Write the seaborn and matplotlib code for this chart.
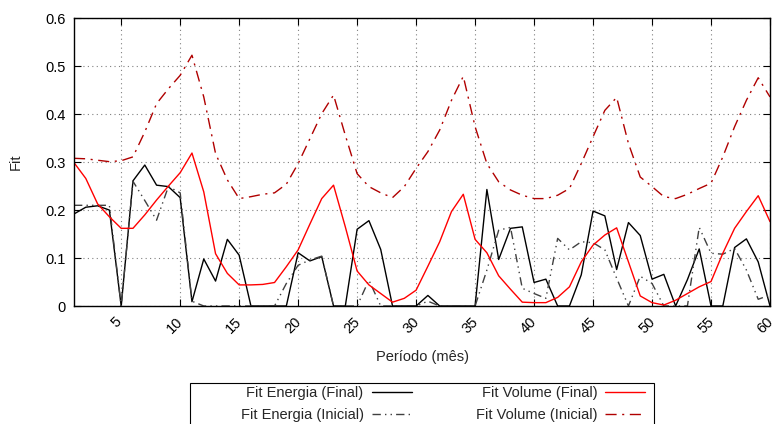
import numpy as np
import pandas as pd
import matplotlib
matplotlib.use('Agg')
import matplotlib.pyplot as plt
import matplotlib.transforms as mtransforms
from matplotlib.patches import Rectangle
import seaborn as sns

# período (mês) 1..60
periodo = list(range(1, 61))

energia_final = [0.192, 0.206, 0.209, 0.200, 0.0, 0.261, 0.294, 0.252, 0.249, 0.226,
                 0.009, 0.098, 0.052, 0.139, 0.106, 0.0, 0.0, 0.0, 0.0, 0.111,
                 0.094, 0.103, 0.0, 0.0, 0.160, 0.178, 0.118, 0.0, 0.0, 0.0,
                 0.022, 0.0, 0.0, 0.0, 0.0, 0.243, 0.097, 0.162, 0.165, 0.049,
                 0.056, 0.0, 0.0, 0.065, 0.198, 0.188, 0.076, 0.174, 0.147, 0.056,
                 0.066, 0.0, 0.055, 0.119, 0.0, 0.0, 0.122, 0.140, 0.092, 0.0]

energia_inicial = [0.210, 0.210, 0.210, 0.210, 0.0, 0.260, 0.220, 0.179, 0.249, 0.236,
                   0.010, 0.0, 0.0, 0.0, 0.0, 0.0, 0.0, 0.0, 0.047, 0.085,
                   0.096, 0.104, 0.0, 0.0, 0.0, 0.054, 0.0, 0.0, 0.0, 0.0,
                   0.010, 0.0, 0.0, 0.0, 0.0, 0.075, 0.158, 0.164, 0.037, 0.026,
                   0.016, 0.141, 0.117, 0.134, 0.132, 0.117, 0.058, 0.0, 0.062, 0.047,
                   0.0, 0.0, 0.0, 0.164, 0.110, 0.108, 0.120, 0.075, 0.014, 0.023]

volume_final = [0.299, 0.266, 0.213, 0.186, 0.162, 0.162, 0.190, 0.221, 0.250, 0.278,
                0.319, 0.238, 0.109, 0.068, 0.044, 0.044, 0.045, 0.049, 0.082, 0.117,
                0.171, 0.224, 0.252, 0.165, 0.073, 0.044, 0.026, 0.008, 0.016, 0.033,
                0.083, 0.134, 0.197, 0.233, 0.139, 0.111, 0.063, 0.035, 0.008, 0.007,
                0.007, 0.018, 0.040, 0.092, 0.127, 0.148, 0.163, 0.092, 0.021, 0.007,
                0.002, 0.012, 0.026, 0.040, 0.051, 0.110, 0.162, 0.197, 0.230, 0.176]

volume_inicial = [0.308, 0.307, 0.304, 0.301, 0.303, 0.311, 0.363, 0.422, 0.453, 0.481,
                  0.523, 0.436, 0.318, 0.263, 0.224, 0.228, 0.233, 0.236, 0.254, 0.297,
                  0.349, 0.401, 0.440, 0.356, 0.276, 0.249, 0.236, 0.226, 0.249, 0.287,
                  0.322, 0.367, 0.429, 0.479, 0.374, 0.297, 0.259, 0.242, 0.231, 0.224,
                  0.224, 0.231, 0.245, 0.297, 0.353, 0.408, 0.435, 0.339, 0.269, 0.249,
                  0.228, 0.224, 0.233, 0.245, 0.256, 0.311, 0.374, 0.429, 0.476, 0.436]

x_ticks = list(range(5, 61, 5))
y_ticks = [0, 0.1, 0.2, 0.3, 0.4, 0.5, 0.6]
y_tick_labels = ['0', '0.1', '0.2', '0.3', '0.4', '0.5', '0.6']

series = [
    ('Fit Energia (Final)', energia_final, 'black', '-'),
    ('Fit Energia (Inicial)', energia_inicial, '#404040', (0, (6, 3, 1, 3, 1, 3))),
    ('Fit Volume (Final)', volume_final, '#ff0000', '-'),
    ('Fit Volume (Inicial)', volume_inicial, '#b00000', (0, (8, 4, 1.5, 4))),
]


def main():
    sns.set_style('ticks')
    plt.rcParams['font.family'] = ['Liberation Sans', 'DejaVu Sans']
    plt.rcParams['font.size'] = 10.5

    fig = plt.figure(figsize=(7.75, 4.24), dpi=100)
    ax = fig.add_axes([74 / 775, 1 - 306 / 424, (770 - 74) / 775, (306 - 18.3) / 424])

    for label, values, color, ls in series:
        df = pd.DataFrame({'periodo': periodo, 'fit': values})
        sns.lineplot(data=df, x='periodo', y='fit', ax=ax, color=color,
                     linestyle=ls, linewidth=1.0, label=label)

    ax.set_xlim(1, 60)
    ax.set_ylim(0, 0.6)
    ax.set_xticks(x_ticks)
    ax.set_yticks(y_ticks)
    ax.set_yticklabels(y_tick_labels)
    ax.tick_params(axis='both', direction='in', top=True, right=True,
                   length=5, width=0.8, labelsize=10.5, colors='black', pad=6)
    # rotated x labels sit a little left of their tick
    shift = mtransforms.ScaledTranslation(-5 / 100, 0, fig.dpi_scale_trans)
    for lbl in ax.get_xticklabels():
        lbl.set_rotation(45)
        lbl.set_ha('center')
        lbl.set_transform(lbl.get_transform() + shift)
    ax.grid(True, linestyle=(0, (1, 3)), color='#808080', linewidth=0.8)
    for sp in ax.spines.values():
        sp.set_linewidth(1.0)
        sp.set_color('black')

    ax.set_xlabel('Período (mês)', fontsize=10.5, labelpad=10)
    ax.set_ylabel('Fit', fontsize=10.5, labelpad=16)

    # legend, gnuplot style: text then sample, framed box below the plot
    leg = ax.legend(ncol=2, markerfirst=False, frameon=False, fontsize=10.5,
                    handlelength=2.75, handletextpad=0.55, columnspacing=4.4,
                    labelspacing=0.5, loc='center',
                    bbox_to_anchor=(443 / 775, 1 - 404 / 424),
                    bbox_transform=fig.transFigure)
    fig.add_artist(Rectangle((190 / 775, -0.05), (654 - 190) / 775,
                             (1 - 383.3 / 424) + 0.05, transform=fig.transFigure,
                             fill=False, edgecolor='black', linewidth=0.8))

    fig.savefig('out.png', dpi=100)


if __name__ == '__main__':
    main()
